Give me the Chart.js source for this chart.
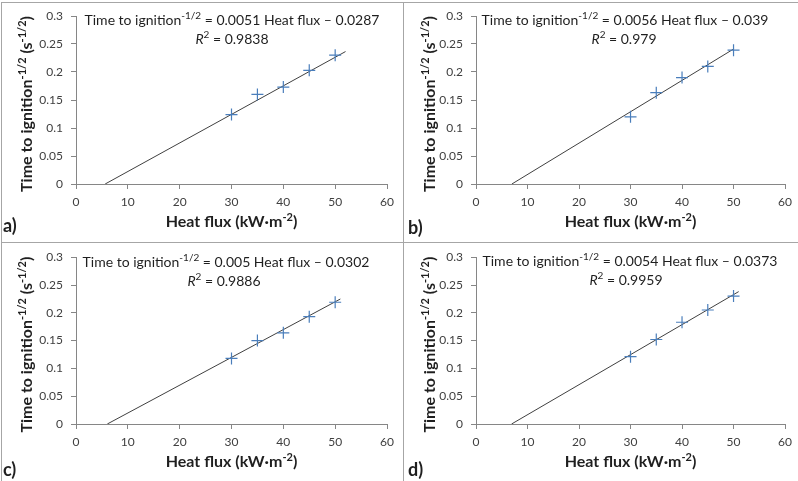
<!DOCTYPE html>
<html>
<head>
<meta charset="utf-8">
<script src="https://cdn.jsdelivr.net/npm/chart.js@4"></script>
<style>
  html, body { margin: 0; padding: 0; background: #fff; }
  #wrap { position: relative; width: 798px; height: 481px; overflow: hidden; }
  canvas { position: absolute; }
  .rule { position: absolute; background: #a6a6a6; }
</style>
</head>
<body>
<div id="wrap">
  <canvas id="chart-a" width="403" height="242" style="left:0;top:0"></canvas>
  <canvas id="chart-b" width="395" height="242" style="left:403px;top:0"></canvas>
  <canvas id="chart-c" width="403" height="239" style="left:0;top:242px"></canvas>
  <canvas id="chart-d" width="395" height="239" style="left:403px;top:242px"></canvas>
  <div class="rule" style="left:1px;top:2px;width:797px;height:1px"></div>
  <div class="rule" style="left:1px;top:2px;width:1px;height:479px"></div>
  <div class="rule" style="left:403px;top:2px;width:1px;height:479px"></div>
  <div class="rule" style="left:1px;top:242px;width:797px;height:1px"></div>
</div>
<script>
// heat flux levels (kW·m-2) and time to ignition^-1/2 (s^-1/2) per panel
const heatFlux = [30, 35, 40, 45, 50];
const tigA = [0.124, 0.160, 0.173, 0.203, 0.230];
const tigB = [0.120, 0.163, 0.190, 0.210, 0.239];
const tigC = [0.118, 0.150, 0.164, 0.193, 0.219];
const tigD = [0.121, 0.152, 0.183, 0.205, 0.230];

// linear fits shown on each panel
const slopes = [0.0051, 0.0056, 0.005, 0.0054];
const intercepts = [-0.0287, -0.039, -0.0302, -0.0373];
const r2Values = ["0.9838", "0.979", "0.9886", "0.9959"];
const trendEnd = [52, 50, 51, 51];

const panelLetters = ["a)", "b)", "c)", "d)"];
const xTicks = [0, 10, 20, 30, 40, 50, 60];
const yTicks = [0, 0.05, 0.1, 0.15, 0.2, 0.25, 0.3];

const FONT = "Lato, 'Liberation Sans', sans-serif";
const TEXT = "#1f1f1f";
const AXIS = "#868686";

// draws a run of text pieces, some raised as superscripts
function drawRich(ctx, segs, x, y, opts) {
  const bold = opts.bold ? "bold " : "";
  const size = opts.size, supSize = Math.round(size * 0.68);
  const fontOf = s => (s.italic ? "italic " : "") + bold + (s.sup ? supSize : size) + "px " + FONT;
  let w = 0;
  segs.forEach(s => { ctx.font = fontOf(s); w += ctx.measureText(s.t).width; });
  ctx.save();
  ctx.translate(x, y);
  if (opts.rotate) ctx.rotate(-Math.PI / 2);
  ctx.fillStyle = TEXT;
  ctx.textBaseline = "alphabetic";
  ctx.textAlign = "left";
  let cx = -w / 2;
  segs.forEach(s => {
    ctx.font = fontOf(s);
    ctx.fillText(s.t, cx, s.sup ? -size * 0.4 : 0);
    cx += ctx.measureText(s.t).width;
  });
  ctx.restore();
}

const labelsPlugin = {
  id: "labels",
  afterDraw(chart) {
    const o = chart.options.plugins.labels;
    const ctx = chart.ctx;
    const i = o.index;
    const a = chart.chartArea;
    drawRich(ctx, [
      { t: "Time to ignition" }, { t: "-1/2", sup: true },
      { t: " = " + slopes[i] + " Heat flux \u2013 " + Math.abs(intercepts[i]) }
    ], o.eqX, o.eqY, { size: 14 });
    drawRich(ctx, [
      { t: "R", italic: true }, { t: "2", sup: true }, { t: " = " + r2Values[i] }
    ], o.r2X, o.eqY + 19, { size: 14 });
    drawRich(ctx, [
      { t: "Time to ignition" }, { t: "-1/2", sup: true },
      { t: " (s" }, { t: "-1/2", sup: true }, { t: ")" }
    ], 32, (a.top + a.bottom) / 2 + 4, { size: 16, bold: true, rotate: true });
    drawRich(ctx, [
      { t: "Heat flux (kW\u00b7m" }, { t: "-2", sup: true }, { t: ")" }
    ], (a.left + a.right) / 2, a.bottom + 43, { size: 16, bold: true });
    ctx.save();
    ctx.font = "bold 18px " + FONT;
    ctx.fillStyle = TEXT;
    ctx.fillText(panelLetters[i], o.letterX, o.letterY);
    ctx.restore();
  }
};

function makeChart(id, i, values, box) {
  const canvas = document.getElementById(id);
  const W = canvas.width, H = canvas.height;
  const x0 = -intercepts[i] / slopes[i];
  const x1 = trendEnd[i];
  new Chart(canvas, {
    type: "scatter",
    data: {
      datasets: [{
        data: heatFlux.map((x, k) => ({ x: x, y: values[k] })),
        pointStyle: "cross",
        pointRadius: 6,
        pointBorderColor: "#4a7ebb",
        pointBorderWidth: 1.2,
        showLine: false
      }, {
        data: [{ x: x0, y: 0 }, { x: x1, y: slopes[i] * x1 + intercepts[i] }],
        showLine: true,
        borderColor: "#404040",
        borderWidth: 1,
        pointRadius: 0
      }]
    },
    options: {
      responsive: false,
      animation: false,
      events: [],
      layout: { padding: { left: 0, top: box.top, right: W - box.right, bottom: 0 } },
      plugins: {
        legend: { display: false },
        tooltip: { enabled: false },
        labels: box
      },
      scales: {
        x: {
          type: "linear",
          min: 0, max: 60,
          afterBuildTicks: s => { s.ticks = xTicks.map(v => ({ value: v })); },
          afterFit: s => { s.height = H - box.bottom; },
          grid: { drawOnChartArea: false, drawTicks: true, tickLength: 5, color: AXIS },
          border: { color: AXIS },
          ticks: { color: "#404040", font: { family: FONT, size: 12 }, padding: 6, callback: v => String(v) }
        },
        y: {
          type: "linear",
          min: 0, max: 0.3,
          afterBuildTicks: s => { s.ticks = yTicks.map(v => ({ value: v })); },
          afterFit: s => { s.width = box.left; },
          grid: { drawOnChartArea: false, drawTicks: true, tickLength: 5, color: AXIS },
          border: { color: AXIS },
          ticks: { color: "#404040", font: { family: FONT, size: 12 }, padding: 8, callback: v => String(v) }
        }
      }
    },
    plugins: [labelsPlugin]
  });
}

makeChart("chart-a", 0, tigA, { index: 0, left: 76, top: 16, right: 387, bottom: 184, eqX: 232, eqY: 25, r2X: 232, letterX: 3, letterY: 232 });
makeChart("chart-b", 1, tigB, { index: 1, left: 73, top: 16, right: 384, bottom: 184, eqX: 222, eqY: 25, r2X: 221, letterX: 5, letterY: 234 });
makeChart("chart-c", 2, tigC, { index: 2, left: 76, top: 14, right: 387, bottom: 182, eqX: 226, eqY: 25, r2X: 224, letterX: 3, letterY: 234 });
makeChart("chart-d", 3, tigD, { index: 3, left: 73, top: 14, right: 384, bottom: 182, eqX: 227, eqY: 24, r2X: 223, letterX: 5, letterY: 234 });
</script>
</body>
</html>
